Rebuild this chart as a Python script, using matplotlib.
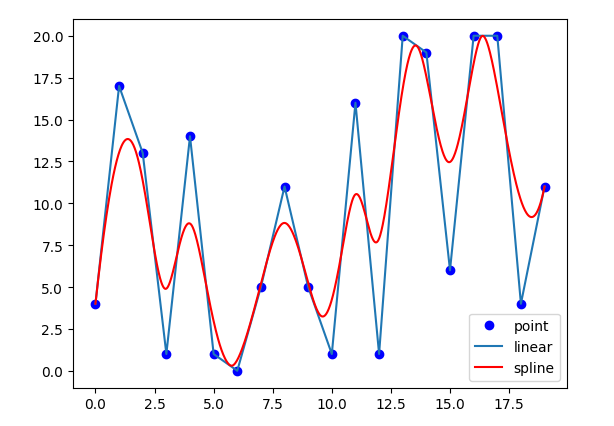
import numpy as np
import matplotlib
matplotlib.use("Agg")
import matplotlib.pyplot as plt

# data
x_values = np.arange(20).astype(float)
y_values = np.array([4, 17, 13, 1, 14, 1, 0, 5, 11, 5, 1, 16, 1, 20, 19, 6, 20, 20, 4, 11], dtype=float)
labels = ['point', 'linear', 'spline']


def bspline_basis(t, k, uu):
    """Cox-de Boor basis functions, shape (len(uu), len(t)-k-1)."""
    m = len(t) - 1
    B = np.zeros((len(uu), m))
    for i in range(m):
        if t[i] < t[i + 1]:
            B[:, i] = (uu >= t[i]) & (uu < t[i + 1])
    for p in range(1, k + 1):
        Bn = np.zeros((len(uu), m - p))
        for i in range(m - p):
            d1 = t[i + p] - t[i]
            d2 = t[i + p + 1] - t[i + 1]
            left = (uu - t[i]) / d1 * B[:, i] if d1 > 0 else 0.0
            right = (t[i + p + 1] - uu) / d2 * B[:, i + 1] if d2 > 0 else 0.0
            Bn[:, i] = left + right
        B = Bn
    return B


# cubic B-spline using the points as control points, knots from chord length
seg = np.sqrt(np.diff(x_values) ** 2 + np.diff(y_values) ** 2)
u = np.r_[0.0, np.cumsum(seg)]
u = u / u[-1]
knots = np.r_[[0.0] * 4, u[2:-2], [1.0] * 4]
uu = np.linspace(0, 1, 1000)
uu[-1] = 1 - 1e-12
basis = bspline_basis(knots, 3, uu)
spline_x = basis @ x_values
spline_y = basis @ y_values

fig = plt.figure(figsize=(6.14, 4.27), dpi=100)
ax = fig.add_axes([73 / 614, 1 - 388.5 / 427, 494 / 614, 368.5 / 427])
ax.plot(x_values, y_values, 'o', color='blue', label=labels[0])
ax.plot(x_values, y_values, color='C0', label=labels[1])
ax.plot(spline_x, spline_y, color='red', label=labels[2])
ax.legend(loc='lower right')
fig.savefig('out.png', dpi=100)
